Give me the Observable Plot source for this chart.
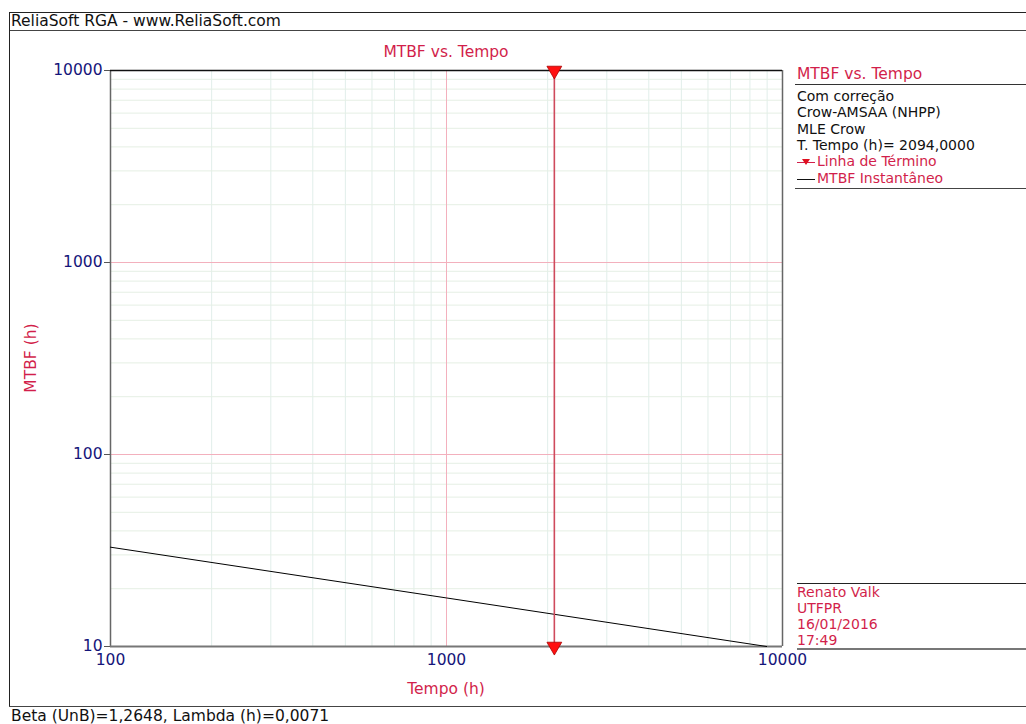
<!DOCTYPE html>
<html><head><meta charset="utf-8">
<script src="https://cdn.jsdelivr.net/npm/d3@7"></script>
<script src="https://cdn.jsdelivr.net/npm/@observablehq/plot@0.6"></script>
<style>
body{margin:0;background:#fff;font-family:"DejaVu Sans",Verdana,sans-serif;}
#wrap{position:relative;width:1026px;height:724px;overflow:hidden;background:#fff;}
#wrap svg{position:absolute;left:0;top:0;}
.abs{position:absolute;white-space:nowrap;font-size:15.5px;line-height:15.5px;}
.sm{font-size:14px;line-height:16.3px;}
.crim{color:#d21f4b;}
.hl{position:absolute;height:0;}
</style></head><body><div id="wrap"></div>
<script>
// ---- data ----
const appTitle = "ReliaSoft RGA - www.ReliaSoft.com";
const chartTitle = "MTBF vs. Tempo";
const xLabel = "Tempo (h)";
const yLabel = "MTBF (h)";
const footerText = "Beta (UnB)=1,2648, Lambda (h)=0,0071";
const xTicks = [100, 1000, 10000];
const yTicks = [10, 100, 1000, 10000];
const tempo = [100, 1000, 8970];
const mtbf = [32.9, 17.9, 10];
const endTime = [2094];
const legendHeader = "MTBF vs. Tempo";
const legendInfo = ["Com correção", "Crow-AMSAA (NHPP)", "MLE Crow", "T. Tempo (h)= 2094,0000"];
const legendItems = ["Linha de Término", "MTBF Instantâneo"];
const signature = ["Renato Valk", "UTFPR", "16/01/2016", "17:49"];

// ---- styles ----
const navy = "#15157a", crimson = "#d21f4b";
const [xMin, xMax] = [xTicks[0], xTicks[xTicks.length - 1]];
const [yMin, yMax] = [yTicks[0], yTicks[yTicks.length - 1]];
const minorOf = (ticks) => ticks.slice(0, -1).flatMap(t => d3.range(2, 10).map(k => k * t));
const xMinor = minorOf(xTicks), yMinor = minorOf(yTicks);
const line = tempo.map((t, i) => ({t, m: mtbf[i]}));
const marks2 = [{t: endTime[0], m: yMax}, {t: endTime[0], m: yMin}];

const plot = Plot.plot({
  width: 1026, height: 724,
  marginLeft: 110, marginRight: 244, marginTop: 70, marginBottom: 78,
  x: {type: "log", domain: [xMin, xMax]},
  y: {type: "log", domain: [yMin, yMax]},
  style: {fontFamily: '"DejaVu Sans", Verdana, sans-serif', fontSize: "15.5px", color: navy, background: "transparent", overflow: "visible"},
  marks: [
    Plot.ruleX(xMinor, {stroke: "#e1eeea", strokeWidth: 1}),
    Plot.ruleY(yMinor, {stroke: "#e5efe4", strokeWidth: 1}),
    Plot.ruleX(xTicks.slice(1, -1), {stroke: "#f3b0bd", strokeWidth: 1}),
    Plot.ruleY(yTicks.slice(1, -1), {stroke: "#f3b0bd", strokeWidth: 1}),
    Plot.axisX({ticks: xTicks, tickFormat: d => String(d), label: null, tickSize: 0, tickPadding: 7, fill: navy}),
    Plot.axisY({ticks: yTicks, tickFormat: d => String(d), label: null, tickSize: 6, tickPadding: 2, stroke: "#555", fill: navy}),
    Plot.ruleX([xMin], {stroke: "#666", strokeWidth: 1.5}),
    Plot.ruleX([xMax], {stroke: "#666", strokeWidth: 1.5}),
    Plot.ruleY([yMin], {stroke: "#777", strokeWidth: 2}),
    Plot.ruleY([yMax], {stroke: "#111", strokeWidth: 1.5}),
    Plot.line(line, {x: "t", y: "m", stroke: "#000", strokeWidth: 1}),
    Plot.ruleX(endTime, {stroke: "#cf4a5c", strokeWidth: 1.6}),
    Plot.dot(marks2, {x: "t", y: "m", symbol: "triangle", rotate: 180, r: 5.5, fill: "#ff1010", stroke: "#a00", strokeWidth: 0.8})
  ]
});

const wrap = document.getElementById("wrap");
wrap.appendChild(plot);

function addText(txt, left, top, cls = "", extra = "") {
  const d = document.createElement("div");
  d.className = "abs " + cls;
  d.style.cssText += `left:${left}px;top:${top}px;` + extra;
  d.textContent = txt;
  wrap.appendChild(d);
  return d;
}
function hline(x1, x2, y, color, w = 1) {
  const d = document.createElement("div");
  d.className = "hl";
  d.style.cssText = `left:${x1}px;width:${x2 - x1}px;top:${y}px;border-top:${w}px solid ${color};`;
  wrap.appendChild(d);
}
function vline(x, y1, y2, color, w = 1) {
  const d = document.createElement("div");
  d.style.cssText = `position:absolute;left:${x}px;top:${y1}px;height:${y2 - y1}px;border-left:${w}px solid ${color};`;
  wrap.appendChild(d);
}

// outer frame
hline(9, 1026, 12, "#222");
hline(9, 1026, 30, "#444");
hline(9, 1026, 706, "#444");
vline(9, 12, 706, "#222");
addText(appTitle, 11, 14, "", "color:#111;");
addText(footerText, 11, 709, "", "color:#111;");

// chart titles
addText(chartTitle, 446, 45, "crim", "transform:translateX(-50%);");
addText(xLabel, 446, 682, "crim", "transform:translateX(-50%);");
addText(yLabel, 32, 358, "crim", "transform:translate(-50%,-50%) rotate(-90deg);");

// legend panel
const LS = 16.3;
addText(legendHeader, 797, 67, "crim");
hline(795, 1026, 84, "#333");
legendInfo.forEach((t, i) => addText(t, 797, 88 + i * LS, "sm", "color:#111;"));
const legTop = 88 + legendInfo.length * LS;
legendItems.forEach((t, i) => addText(t, 817, legTop + i * LS, "sm crim"));
// legend samples
hline(797, 815, legTop + 9, crimson, 1);
const tri = document.createElement("div");
tri.style.cssText = `position:absolute;left:802px;top:${legTop + 6}px;width:0;height:0;border-left:4px solid transparent;border-right:4px solid transparent;border-top:6px solid #e01020;`;
wrap.appendChild(tri);
hline(797, 815, legTop + LS + 9, "#111", 1);
hline(795, 1026, legTop + 2 * LS + 2, "#444");

// signature box
hline(797, 1026, 583, "#222");
signature.forEach((t, i) => addText(t, 797, 583.5 + i * LS, "sm crim"));
hline(797, 1026, 648, "#777", 2);
</script>
</body></html>
